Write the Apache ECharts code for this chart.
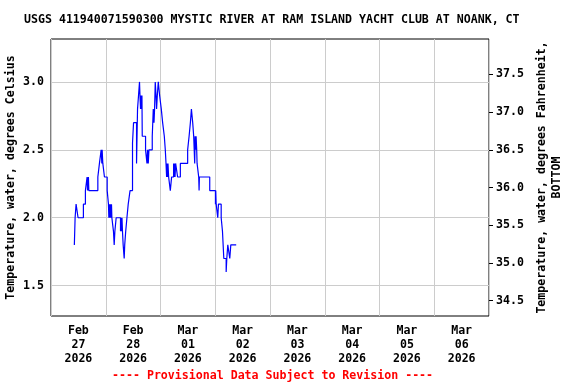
<!DOCTYPE html>
<html><head><meta charset="utf-8">
<script src="https://cdn.jsdelivr.net/npm/echarts@6/dist/echarts.min.js"></script>
<style>html,body{margin:0;padding:0;background:#fff}#c{width:576px;height:384px}</style>
</head><body><div id="c"></div>
<script>
const titleText = "USGS 411940071590300 MYSTIC RIVER AT RAM ISLAND YACHT CLUB AT NOANK, CT";
const footerText = "---- Provisional Data Subject to Revision ----";
const leftAxisName = "Temperature, water, degrees Celsius";
const rightAxisName = "Temperature, water, degrees Fahrenheit,\nBOTTOM";
const dayLabels = ["Feb\n27\n2026","Feb\n28\n2026","Mar\n01\n2026","Mar\n02\n2026","Mar\n03\n2026","Mar\n04\n2026","Mar\n05\n2026","Mar\n06\n2026"];
const xStart = "2026-02-27 00:00", xEnd = "2026-03-07 00:00";
const yMinC = 1.2765, yMaxC = 3.316;

const times = [
"2026-02-27 10:14","2026-02-27 10:34","2026-02-27 11:00","2026-02-27 11:52","2026-02-27 14:12","2026-02-27 15:05",
"2026-02-27 15:49","2026-02-27 16:02","2026-02-27 16:24","2026-02-27 16:35","2026-02-27 20:32","2026-02-27 21:14",
"2026-02-27 21:59","2026-02-27 22:17","2026-02-27 22:25","2026-02-27 22:43","2026-02-27 23:26","2026-02-28 00:38",
"2026-02-28 01:11","2026-02-28 01:22","2026-02-28 01:37","2026-02-28 01:50","2026-02-28 02:05","2026-02-28 02:18",
"2026-02-28 02:31","2026-02-28 02:41","2026-02-28 03:23","2026-02-28 03:42","2026-02-28 04:00","2026-02-28 04:34",
"2026-02-28 06:28","2026-02-28 06:41","2026-02-28 06:54","2026-02-28 07:07","2026-02-28 07:20","2026-02-28 07:38",
"2026-02-28 08:05","2026-02-28 08:19","2026-02-28 08:45","2026-02-28 09:17","2026-02-28 09:51","2026-02-28 10:39",
"2026-02-28 11:44","2026-02-28 12:11","2026-02-28 13:30","2026-02-28 13:56","2026-02-28 14:22","2026-02-28 14:48",
"2026-02-28 15:00","2026-02-28 15:15","2026-02-28 15:26","2026-02-28 15:41","2026-02-28 15:52","2026-02-28 16:00",
"2026-02-28 17:27","2026-02-28 18:04","2026-02-28 18:20","2026-02-28 18:38","2026-02-28 18:56","2026-02-28 20:23",
"2026-02-28 20:50","2026-02-28 21:09","2026-02-28 21:24","2026-02-28 21:42","2026-02-28 22:02","2026-02-28 22:17",
"2026-02-28 22:36","2026-02-28 23:02","2026-02-28 23:37","2026-03-01 00:21","2026-03-01 00:56","2026-03-01 01:40",
"2026-03-01 02:06","2026-03-01 02:25","2026-03-01 02:41","2026-03-01 02:51","2026-03-01 03:07","2026-03-01 03:17",
"2026-03-01 03:34","2026-03-01 04:18","2026-03-01 04:52","2026-03-01 05:45","2026-03-01 05:56","2026-03-01 06:11",
"2026-03-01 06:22","2026-03-01 06:38","2026-03-01 07:30","2026-03-01 08:42","2026-03-01 11:54","2026-03-01 12:32",
"2026-03-01 13:06","2026-03-01 13:33","2026-03-01 14:07","2026-03-01 14:33","2026-03-01 15:00","2026-03-01 15:10",
"2026-03-01 15:26","2026-03-01 15:36","2026-03-01 15:52","2026-03-01 16:02","2026-03-01 16:45","2026-03-01 16:55",
"2026-03-01 17:03","2026-03-01 21:35","2026-03-02 00:05","2026-03-02 00:13","2026-03-02 00:24","2026-03-02 01:06",
"2026-03-02 01:24","2026-03-02 02:36","2026-03-02 03:10","2026-03-02 03:45","2026-03-02 04:47","2026-03-02 05:04",
"2026-03-02 05:30","2026-03-02 06:22","2026-03-02 06:49","2026-03-02 09:11"
];
const tempsC = [
1.8,2.0,2.1,2.0,2.1,2.2,
2.3,2.2,2.3,2.2,2.3,2.4,
2.5,2.4,2.5,2.4,2.3,2.2,
2.1,2.0,2.1,2.0,2.1,2.0,
2.1,2.0,1.9,1.8,1.9,2.0,
1.9,2.0,1.9,2.0,1.9,1.8,
1.7,1.8,1.9,2.0,2.1,2.2,
2.55,2.7,2.4,2.8,2.9,3.0,
2.9,2.8,2.9,2.8,2.9,2.6,
2.5,2.4,2.5,2.4,2.5,2.6,
2.8,2.7,2.8,3.0,2.9,2.8,
2.9,3.0,2.9,2.8,2.7,2.6,
2.5,2.4,2.3,2.4,2.3,2.4,
2.3,2.2,2.3,2.4,2.3,2.4,
2.3,2.4,2.3,2.4,2.5,2.6,
2.7,2.8,2.7,2.6,2.4,2.6,
2.5,2.6,2.5,2.4,2.3,2.2,
2.3,2.2,2.1,2.2,2.1,2.0,
2.1,2.0,1.9,1.7,1.6,1.7,
1.8,1.7,1.8,1.8
];

const FONT = "DejaVu Sans Mono";
const txt = {fontFamily: FONT, fontWeight: 'bold', fontSize: 11.6, color: '#000'};
const chart = echarts.init(document.getElementById('c'), null, {renderer: 'canvas'});
chart.setOption({
  animation: false,
  backgroundColor: '#fff',
  title: [
    {text: titleText, left: 19, top: 9, textStyle: Object.assign({}, txt)},
    {text: footerText, left: 107, top: 365, textStyle: Object.assign({}, txt, {color: '#ff0000'})}
  ],
  grid: {left: 51, right: 87, top: 39, bottom: 68, show: true, borderColor: '#000', borderWidth: 1, backgroundColor: 'transparent', containLabel: false, outerBoundsMode: 'none'},
  xAxis: [
    {type: 'time', min: xStart, max: xEnd, axisLine: {show: false}, axisTick: {show: false}, axisLabel: {show: false}, splitLine: {show: false}},
    {type: 'category', data: dayLabels, boundaryGap: true, position: 'bottom',
     axisLine: {show: false}, axisTick: {show: false},
     axisLabel: Object.assign({}, txt, {margin: 8, lineHeight: 14, interval: 0}),
     splitLine: {show: true, interval: 0, lineStyle: {color: '#cccccc', width: 1}}}
  ],
  yAxis: [
    {type: 'value', min: yMinC, max: yMaxC, splitNumber: 5, position: 'left',
     name: leftAxisName, nameLocation: 'middle', nameRotate: 90, nameGap: 34, nameMoveOverlap: false,
     nameTextStyle: Object.assign({}, txt),
     axisLine: {show: false}, axisTick: {show: false},
     axisLabel: Object.assign({}, txt, {margin: 7, showMinLabel: false, showMaxLabel: false, formatter: v => v.toFixed(1)}),
     splitLine: {show: true, showMinLine: false, showMaxLine: false, lineStyle: {color: '#cccccc', width: 1}}},
    {type: 'value', min: yMinC * 1.8 + 32, max: yMaxC * 1.8 + 32, splitNumber: 7, position: 'right',
     name: rightAxisName, nameLocation: 'middle', nameRotate: 90, nameGap: 45,
     nameTextStyle: Object.assign({}, txt, {lineHeight: 15, align: 'center'}),
     axisLine: {show: false}, axisTick: {show: true, inside: false, length: 4, lineStyle: {color: '#000'}},
     axisLabel: Object.assign({}, txt, {margin: 7, showMinLabel: false, showMaxLabel: false, formatter: v => v.toFixed(1)}),
     splitLine: {show: false}}
  ],
  series: [{
    type: 'line', xAxisIndex: 0, yAxisIndex: 0, step: 'end', showSymbol: false, symbol: 'none',
    lineStyle: {color: '#0000ff', width: 1.2}, z: 5,
    data: times.map((t, i) => [t, tempsC[i]])
  }]
});
</script></body></html>
